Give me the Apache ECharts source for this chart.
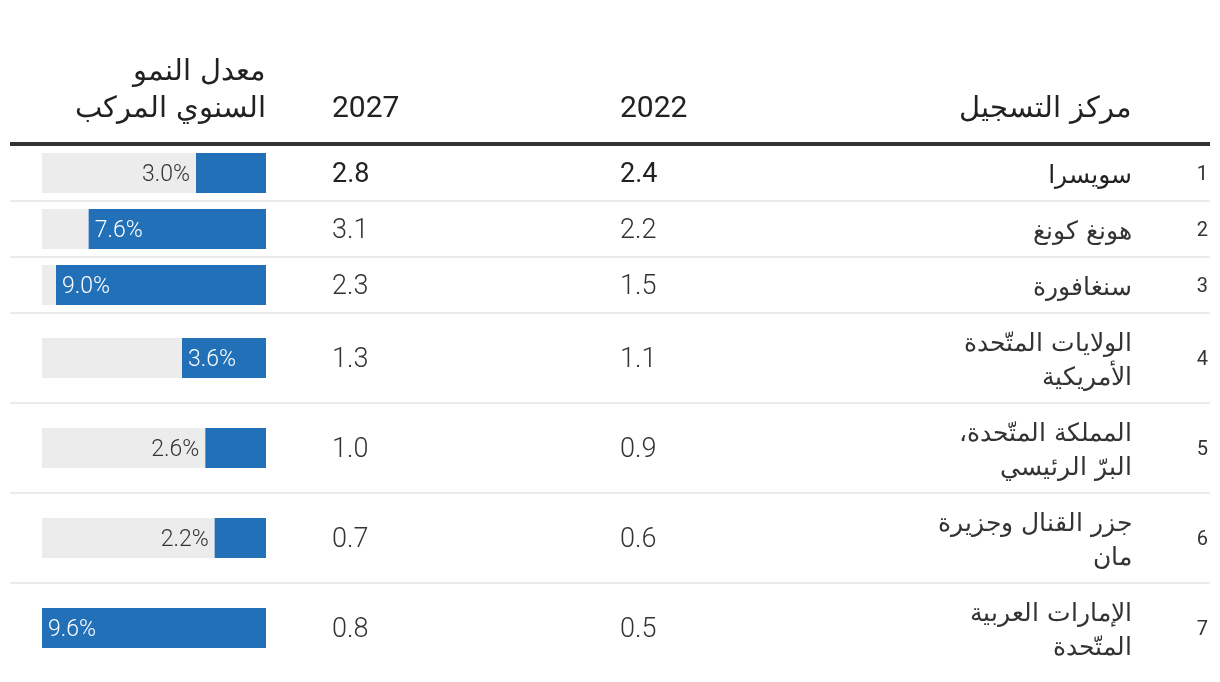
<!DOCTYPE html>
<html>
<head>
<meta charset="utf-8">
<script src="https://cdn.jsdelivr.net/npm/echarts@6/dist/echarts.min.js"></script>
<style>
html,body{margin:0;padding:0;background:#fff;}
#chart{width:1220px;height:682px;}
</style>
</head>
<body>
<div id="chart" dir="rtl"></div>
<script>
// ---- data ----
const ranks = ['1', '2', '3', '4', '5', '6', '7'];
const centres = [
  'سويسرا',
  'هونغ كونغ',
  'سنغافورة',
  'الولايات المتّحدة\nالأمريكية',
  'المملكة المتّحدة،\nالبرّ الرئيسي',
  'جزر القنال وجزيرة\nمان',
  'الإمارات العربية\nالمتّحدة'
];
const values2022 = [2.4, 2.2, 1.5, 1.1, 0.9, 0.6, 0.5];
const values2027 = [2.8, 3.1, 2.3, 1.3, 1.0, 0.7, 0.8];
const cagr = [3.0, 7.6, 9.0, 3.6, 2.6, 2.2, 9.6];
const headerCentre = 'مركز التسجيل';
const header2022 = '2022';
const header2027 = '2027';
const headerCagr = 'معدل النمو\nالسنوي المركب';

// ---- layout ----
const tableLeft = 10, tableRight = 1210;
const headerLineY = 144;
const firstRowTop = 146;
const rowH1 = 54, rowH2 = 88, sepW = 2;
const barLeft = 42, barWidthPx = 224, barThick = 40;
const xRank = 1208, xName = 1132, x2022 = 620, x2027 = 332;
const blue = '#2270b8', grey = '#ececec', textCol = '#333';
const arFont = "'DejaVu Sans', sans-serif";
const numFont = "Roboto, 'DejaVu Sans', sans-serif";
const cagrMax = Math.max(...cagr);

const rows = [];
let y = firstRowTop;
centres.forEach((c) => {
  const h = c.indexOf('\n') >= 0 ? rowH2 : rowH1;
  rows.push({ top: y, h: h, mid: y + h / 2 });
  y += h + sepW;
});

const grids = [], xAxes = [], yAxes = [], series = [], graphics = [];

rows.forEach((r, i) => {
  grids.push({ left: barLeft, width: barWidthPx, top: r.top, height: r.h, containLabel: false });
  xAxes.push({ type: 'value', gridIndex: i, min: 0, max: cagrMax, inverse: true, show: false });
  yAxes.push({ type: 'category', gridIndex: i, data: [centres[i]], show: false });
  const v = cagr[i];
  const inside = v >= 3.5;
  series.push({
    type: 'bar',
    xAxisIndex: i, yAxisIndex: i,
    barWidth: barThick,
    showBackground: true,
    backgroundStyle: { color: grey },
    itemStyle: { color: blue },
    silent: true,
    data: [{
      value: v,
      label: {
        show: true,
        position: inside ? 'insideLeft' : 'left',
        distance: 6,
        offset: [0, 2],
        color: inside ? '#fff' : textCol,
        fontFamily: numFont,
        fontWeight: 300,
        fontSize: 23,
        formatter: p => p.value.toFixed(1) + '%'
      }
    }]
  });
  const bold = i === 0;
  const col = bold ? '#222' : textCol;
  const wt = bold ? 400 : 300;
  graphics.push({ type: 'text', x: xRank, y: r.mid + 2, style: { text: ranks[i], fill: textCol, fontFamily: numFont, fontWeight: 400, fontSize: 20, align: 'right', verticalAlign: 'middle' } });
  graphics.push({ type: 'text', x: xName, y: r.mid + 3, style: { text: centres[i], fill: col, fontFamily: arFont, fontWeight: bold ? 400 : 300, fontSize: 25, lineHeight: 34, align: 'right', verticalAlign: 'middle' } });
  graphics.push({ type: 'text', x: x2022, y: r.mid + 2, style: { text: values2022[i].toFixed(1), fill: col, fontFamily: numFont, fontWeight: wt, fontSize: 27, align: 'left', verticalAlign: 'middle' } });
  graphics.push({ type: 'text', x: x2027, y: r.mid + 2, style: { text: values2027[i].toFixed(1), fill: col, fontFamily: numFont, fontWeight: wt, fontSize: 27, align: 'left', verticalAlign: 'middle' } });
  if (i < rows.length - 1) {
    graphics.push({ type: 'line', shape: { x1: tableLeft, y1: r.top + r.h + 1, x2: tableRight, y2: r.top + r.h + 1 }, style: { stroke: '#ebebeb', lineWidth: sepW } });
  }
});

// header
graphics.push({ type: 'line', shape: { x1: tableLeft, y1: headerLineY, x2: tableRight, y2: headerLineY }, style: { stroke: '#333', lineWidth: 4 } });
graphics.push({ type: 'text', x: xName, y: 109, style: { text: headerCentre, fill: '#222', fontFamily: arFont, fontWeight: 300, fontSize: 29, align: 'right', verticalAlign: 'middle' } });
graphics.push({ type: 'text', x: x2022, y: 109, style: { text: header2022, fill: '#222', fontFamily: numFont, fontSize: 30, align: 'left', verticalAlign: 'middle' } });
graphics.push({ type: 'text', x: x2027, y: 109, style: { text: header2027, fill: '#222', fontFamily: numFont, fontSize: 30, align: 'left', verticalAlign: 'middle' } });
graphics.push({ type: 'text', x: barLeft + barWidthPx, y: 90.5, style: { text: headerCagr, fill: '#222', fontFamily: arFont, fontWeight: 300, fontSize: 29, lineHeight: 37, align: 'right', verticalAlign: 'middle' } });

const chart = echarts.init(document.getElementById('chart'), null, { renderer: 'canvas' });
chart.setOption({
  animation: false,
  backgroundColor: '#fff',
  grid: grids,
  xAxis: xAxes,
  yAxis: yAxes,
  series: series,
  graphic: graphics
});
</script>
</body>
</html>
